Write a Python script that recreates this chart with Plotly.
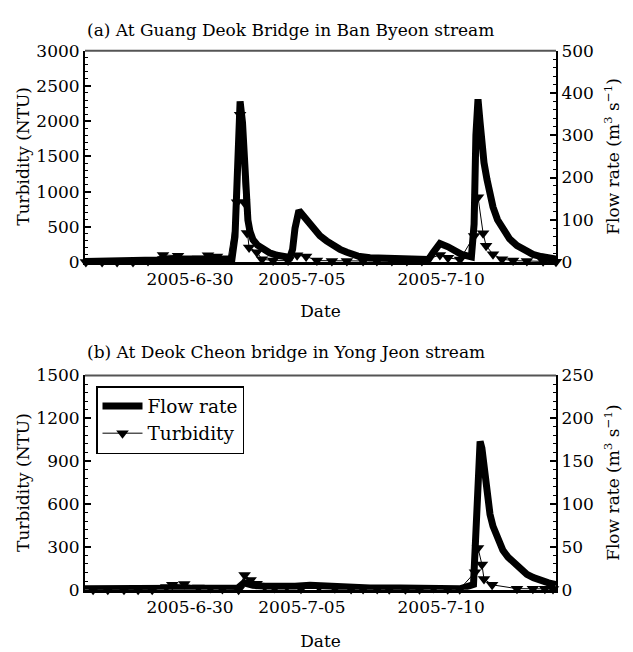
import plotly.graph_objects as go

# ---------------- data ----------------
tick_days = [3.5, 7.23, 11.87]
tick_labels = ["2005-6-30", "2005-7-05", "2005-7-10"]

# (a) Guang Deok Bridge, Ban Byeon stream
flow_a_day = [0.0, 1.0, 2.0, 2.4, 3.0, 3.6, 4.2, 4.9, 5.0, 5.08, 5.17, 5.25, 5.33, 5.38, 5.43,
              5.5, 5.6, 5.75, 5.93, 6.15, 6.4, 6.83, 6.92, 7.0, 7.13, 7.25, 7.4, 7.6, 7.83, 8.05,
              8.27, 8.5, 8.73, 9.1, 9.5, 10.0, 10.6, 11.0, 11.45, 11.6, 11.83, 12.1, 12.3, 12.55,
              12.88, 12.97, 13.03, 13.1, 13.17, 13.23, 13.3, 13.4, 13.5, 13.6, 13.75, 13.93,
              14.15, 14.4, 14.65, 14.93, 15.2, 15.5, 15.7]
flow_a = [1, 1, 2, 5, 7, 8, 8, 8, 60, 260, 380, 330, 222, 150, 99,
          72, 53, 40, 30, 22, 16, 11, 30, 80, 122, 112, 99, 80, 62, 50,
          39, 30, 23, 14, 10, 8, 7, 6, 6, 22, 44, 36, 28, 18,
          12, 90, 300, 385, 330, 275, 235, 195, 160, 130, 100, 76,
          55, 39, 27, 18, 13, 9, 7]

turb_a_day = [0.03, 0.57, 1.07, 1.6, 2.1, 2.6, 3.1, 3.43, 3.77, 4.1, 4.4, 4.77, 5.07, 5.17, 5.3,
              5.4, 5.47, 5.73, 5.9, 6.27, 6.77, 7.07, 7.37, 7.73, 8.23, 8.73, 9.27, 9.73, 10.23,
              10.73, 11.23, 11.83, 12.1, 12.5, 12.97, 13.1, 13.27, 13.37, 13.6, 13.9, 14.27,
              14.73, 15.27, 15.7]
turb_a = [0, 0, 0, 0, 15, 100, 90, 40, 50, 96, 80, 40, 850, 2090, 850,
          413, 206, 140, 40, 20, 20, 96, 80, 20, 15, 15, 15, 15, 15,
          15, 15, 100, 60, 35, 370, 920, 410, 230, 110, 40, 20,
          15, 10, 5]

# (b) Deok Cheon bridge, Yong Jeon stream
flow_b_day = [0.0, 2.3, 2.7, 3.3, 4.0, 5.1, 5.3, 5.6, 6.0, 6.5, 7.0, 7.5, 8.0, 8.6, 9.5, 10.5,
              11.5, 12.5, 12.95, 13.05, 13.1, 13.17, 13.23, 13.3, 13.4, 13.5, 13.6, 13.73, 13.93,
              14.1, 14.27, 14.5, 14.73, 14.95, 15.17, 15.45, 15.7]
flow_b = [1, 1, 3, 3, 2, 2, 8, 5, 4, 3, 4, 5, 4, 3, 2, 2,
          1, 1, 6, 80, 150, 173, 165, 145, 111, 88, 74, 62, 46,
          38, 32, 24, 18, 14, 11, 8, 6]

turb_b_day = [0.27, 0.76, 1.3, 1.77, 2.24, 2.71, 2.91, 3.31, 3.78, 4.18, 4.58, 5.12, 5.32, 5.52,
              5.72, 5.99, 6.32, 6.73, 7.2, 7.8, 8.33, 8.87, 9.27, 9.74, 10.14, 10.68, 11.15,
              11.62, 12.09, 12.49, 13.0, 13.1, 13.23, 13.3, 13.57, 14.4, 14.93, 15.33, 15.6]
turb_b = [0, 0, 0, 0, 0, 18, 34, 40, 16, 11, 5, 0, 102, 68,
          41, 23, 11, 23, 7, 18, 10, 5, 5, 5, 3, 3, 3,
          11, 3, 3, 122, 292, 177, 75, 34, 7, 7, 7, 5]

# ---------------- figure ----------------
W, H = 633, 652
FONT = "DejaVu Serif"
FS = 17

xdom = [85 / W, 556 / W]
top_dom = [1 - 260 / H, 1 - 42 / H]
bot_dom = [1 - 598 / H, 1 - 377 / H]

fig = go.Figure()

flow_line = dict(color="black", width=7)
turb_line = dict(color="black", width=1)
turb_marker = dict(symbol="triangle-down", size=11, color="black")

fig.add_trace(go.Scatter(x=flow_a_day, y=flow_a, xaxis="x", yaxis="y", mode="lines",
                         line=flow_line, name="Flow rate", showlegend=False))
fig.add_trace(go.Scatter(x=turb_a_day, y=turb_a, xaxis="x", yaxis="y2", mode="lines+markers",
                         line=turb_line, marker=turb_marker, name="Turbidity",
                         showlegend=False, cliponaxis=False))
fig.add_trace(go.Scatter(x=flow_b_day, y=flow_b, xaxis="x2", yaxis="y3", mode="lines",
                         line=flow_line, name="Flow rate", showlegend=True))
fig.add_trace(go.Scatter(x=turb_b_day, y=turb_b, xaxis="x2", yaxis="y4", mode="lines+markers",
                         line=turb_line, marker=turb_marker, name="Turbidity",
                         showlegend=True, cliponaxis=False))

tf = dict(family=FONT, size=FS, color="black")


def xaxis(anchor, standoff):
    return dict(domain=xdom, anchor=anchor, range=[0, 15.7], tickmode="array",
                tickvals=tick_days, ticktext=tick_labels, showline=True, linewidth=3,
                linecolor="black", ticks="", showgrid=False, zeroline=False, tickfont=tf,
                title=dict(text="Date", font=tf, standoff=standoff))


def yaxis(dom, side, rng, dtick, mdtick, title, anchor, standoff, overlaying=None):
    d = dict(domain=dom, anchor=anchor, side=side, range=rng, dtick=dtick, tick0=0,
             ticks="inside", ticklen=6, tickwidth=1.5, tickcolor="black",
             minor=dict(ticks="inside", ticklen=3, dtick=mdtick, tick0=0, tickcolor="black",
                        tickwidth=1.2),
             showline=True, linewidth=2, linecolor="black", showgrid=False, zeroline=False,
             tickfont=tf, title=dict(text=title, font=tf, standoff=standoff))
    if overlaying:
        d["overlaying"] = overlaying
        d.pop("domain")
    return d


flow_title = "Flow rate (m<sup>3</sup> s<sup>−1</sup>)"
turb_title = "Turbidity (NTU)"

fig.update_layout(
    width=W, height=H, margin=dict(l=0, r=0, t=0, b=0),
    paper_bgcolor="white", plot_bgcolor="white",
    font=tf,
    xaxis=xaxis("y", 17),
    xaxis2=xaxis("y3", 20),
    yaxis=yaxis(top_dom, "right", [0, 500], 100, 20, flow_title, "x", 14),
    yaxis2=yaxis(top_dom, "left", [0, 3000], 500, 100, turb_title, "x", 2, overlaying="y"),
    yaxis3=yaxis(bot_dom, "right", [0, 250], 50, 10, flow_title, "x2", 14),
    yaxis4=yaxis(bot_dom, "left", [0, 1500], 300, 60, turb_title, "x2", 2, overlaying="y3"),
    legend=dict(x=96 / W, y=1 - 388 / H, xanchor="left", yanchor="top",
                bordercolor="black", borderwidth=1.5, bgcolor="white",
                font=dict(family=FONT, size=18.5, color="black"), tracegroupgap=0,
                itemwidth=40),
    showlegend=True,
    shapes=[
        dict(type="line", xref="paper", yref="paper", x0=xdom[0], x1=xdom[1],
             y0=top_dom[1], y1=top_dom[1], line=dict(color="#555555", width=2)),
        dict(type="line", xref="paper", yref="paper", x0=xdom[0], x1=xdom[1],
             y0=bot_dom[1], y1=bot_dom[1], line=dict(color="#555555", width=2)),
    ],
    annotations=[
        dict(text="(a) At Guang Deok Bridge in Ban Byeon stream", xref="paper", yref="paper",
             x=85 / W, y=1 - 21 / H, xanchor="left", yanchor="middle", showarrow=False, font=tf),
        dict(text="(b) At Deok Cheon bridge in Yong Jeon stream", xref="paper", yref="paper",
             x=85 / W, y=1 - 353 / H, xanchor="left", yanchor="middle", showarrow=False, font=tf),
    ],
)

fig.write_html("out.html")
